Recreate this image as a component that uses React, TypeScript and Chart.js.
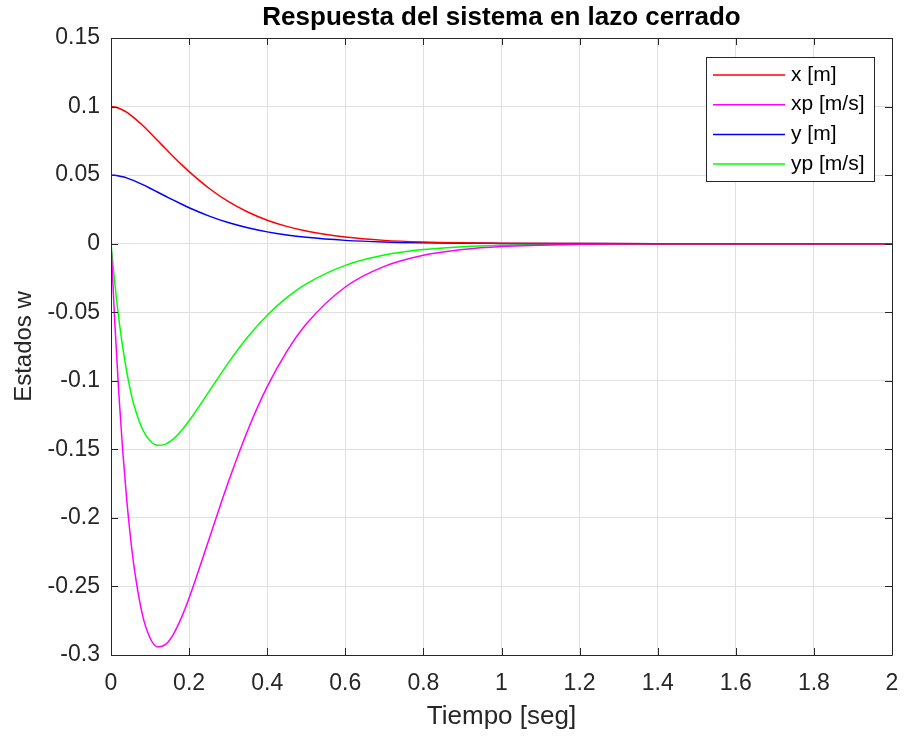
import React, { useEffect, useRef } from 'react';
import { Chart, registerables } from 'chart.js';

Chart.register(...registerables);

const tiempo = [0, 0.01, 0.02, 0.03, 0.04, 0.05, 0.06, 0.08, 0.1, 0.12, 0.14, 0.16, 0.18, 0.2, 0.25, 0.3, 0.35, 0.4, 0.45, 0.5, 0.6, 0.7, 0.8, 0.9, 1.0, 1.2, 1.4, 1.6, 1.8, 2.0];
const xPos = [0.1, 0.0997, 0.0988, 0.0975, 0.0959, 0.0938, 0.0916, 0.0865, 0.0809, 0.075, 0.0692, 0.0634, 0.0578, 0.0525, 0.0406, 0.0308, 0.0231, 0.0171, 0.0126, 0.0092, 0.0048, 0.0024, 0.0012, 0.0006, 0.0003, 0.0001, 0, 0, 0, 0];
const xVel = [0, -0.0591, -0.1091, -0.151, -0.1859, -0.2145, -0.2376, -0.27, -0.2876, -0.2941, -0.2923, -0.2847, -0.2729, -0.2584, -0.2165, -0.1742, -0.1362, -0.1043, -0.0787, -0.0586, -0.0316, -0.0166, -0.0085, -0.0043, -0.0021, -0.0005, -0.0001, 0, 0, 0];
const yPos = [0.05, 0.0499, 0.0494, 0.0488, 0.048, 0.0469, 0.0458, 0.0432, 0.0404, 0.0375, 0.0346, 0.0317, 0.0289, 0.0262, 0.0203, 0.0154, 0.0116, 0.0086, 0.0063, 0.0046, 0.0024, 0.0012, 0.0006, 0.0003, 0.0002, 0.0001, 0, 0, 0, 0];
const yVel = [0, -0.0296, -0.0546, -0.0755, -0.093, -0.1073, -0.1188, -0.135, -0.1438, -0.1471, -0.1462, -0.1424, -0.1365, -0.1292, -0.1083, -0.0871, -0.0681, -0.0522, -0.0394, -0.0293, -0.0158, -0.0083, -0.0043, -0.0022, -0.0011, -0.0003, -0.0001, 0, 0, 0];

const seriesLabels = ['x [m]', 'xp [m/s]', 'y [m]', 'yp [m/s]'];
const seriesColors = ['#ff0000', '#ff00ff', '#0000ff', '#00ff00'];
const xTicks = [0, 0.2, 0.4, 0.6, 0.8, 1, 1.2, 1.4, 1.6, 1.8, 2];
const yTicks = [-0.3, -0.25, -0.2, -0.15, -0.1, -0.05, 0, 0.05, 0.1, 0.15];

const FONT = "'Liberation Sans', Arial, Helvetica, sans-serif";
const AXIS = '#262626';

const boxPlugin = {
  id: 'matlabBox',
  afterDatasetsDraw(chart: any) {
    const { ctx, chartArea: a, scales } = chart;
    ctx.save();
    ctx.strokeStyle = AXIS;
    ctx.lineWidth = 1;
    ctx.beginPath();
    ctx.rect(Math.round(a.left) + 0.5, Math.round(a.top) + 0.5, Math.round(a.right - a.left), Math.round(a.bottom - a.top));
    const tl = 7;
    for (const v of xTicks) {
      const px = Math.round(scales.x.getPixelForValue(v)) + 0.5;
      ctx.moveTo(px, a.bottom);
      ctx.lineTo(px, a.bottom - tl);
      ctx.moveTo(px, a.top);
      ctx.lineTo(px, a.top + tl);
    }
    for (const v of yTicks) {
      const py = Math.round(scales.y.getPixelForValue(v)) + 0.5;
      ctx.moveTo(a.left, py);
      ctx.lineTo(a.left + tl, py);
      ctx.moveTo(a.right, py);
      ctx.lineTo(a.right - tl, py);
    }
    ctx.stroke();

    // legend
    const lx = 706.5, ly = 57.5, lw = 168, lh = 124;
    ctx.fillStyle = '#ffffff';
    ctx.fillRect(lx, ly, lw, lh);
    ctx.strokeStyle = AXIS;
    ctx.strokeRect(lx, ly, lw, lh);
    ctx.font = `21px ${FONT}`;
    ctx.textBaseline = 'middle';
    ctx.textAlign = 'left';
    seriesLabels.forEach((lab, i) => {
      const yy = 75 + i * 29.7;
      ctx.strokeStyle = seriesColors[i];
      ctx.lineWidth = 1.5;
      ctx.beginPath();
      ctx.moveTo(713, yy);
      ctx.lineTo(785, yy);
      ctx.stroke();
      ctx.fillStyle = '#000000';
      ctx.fillText(lab, 791, yy);
    });
    ctx.restore();
  },
};

const fmt = (v: number) => String(Number(v.toFixed(2)));

export default function App() {
  const ref = useRef<HTMLCanvasElement>(null);
  useEffect(() => {
    document.body.style.margin = '0';
    const datasets = [xPos, xVel, yPos, yVel].map((arr, i) => ({
      label: seriesLabels[i],
      data: tiempo.map((t, j) => ({ x: t, y: arr[j] })),
      borderColor: seriesColors[i],
      backgroundColor: seriesColors[i],
      borderWidth: 1.5,
      pointRadius: 0,
      cubicInterpolationMode: 'monotone' as const,
      fill: false,
    }));
    const chart = new Chart(ref.current!, {
      type: 'line',
      data: { datasets },
      plugins: [boxPlugin],
      options: {
        animation: false,
        responsive: false,
        maintainAspectRatio: false,
        layout: { padding: { left: 0, right: 13, top: 0, bottom: 0 } },
        plugins: {
          legend: { display: false },
          tooltip: { enabled: false },
          title: {
            display: true,
            text: 'Respuesta del sistema en lazo cerrado',
            fullSize: false,
            color: '#000000',
            font: { family: FONT, size: 26, weight: 'bold' },
            padding: { top: 2.5, bottom: 4.3 },
          },
        },
        scales: {
          x: {
            type: 'linear',
            min: 0,
            max: 2,
            afterBuildTicks: (s: any) => { s.ticks = xTicks.map((v) => ({ value: v })); },
            afterFit: (s: any) => { s.height = 81; s.paddingRight = 0; s.paddingLeft = 0; },
            ticks: { color: AXIS, font: { family: FONT, size: 23 }, padding: 15, maxRotation: 0, autoSkip: false, callback: (v: any) => fmt(Number(v)) },
            grid: { color: '#e0e0e0', drawTicks: false },
            border: { display: false },
            title: { display: true, text: 'Tiempo [seg]', color: AXIS, font: { family: FONT, size: 26 }, padding: { top: 0, bottom: 4 } },
          },
          y: {
            type: 'linear',
            min: -0.3,
            max: 0.15,
            afterBuildTicks: (s: any) => { s.ticks = yTicks.map((v) => ({ value: v })); },
            afterFit: (s: any) => { s.width = 111; },
            ticks: { color: AXIS, font: { family: FONT, size: 23 }, padding: 11, autoSkip: false, callback: (v: any) => fmt(Number(v)) },
            grid: { color: '#e0e0e0', drawTicks: false },
            border: { display: false },
            title: { display: true, text: 'Estados w', color: AXIS, font: { family: FONT, size: 24 }, padding: { top: 10, bottom: 0 } },
          },
        },
      },
    });
    return () => chart.destroy();
  }, []);
  return (
    <div style={{ position: 'relative', width: 905, height: 736, background: '#ffffff' }}>
      <canvas ref={ref} width={905} height={736} style={{ display: 'block' }} />
    </div>
  );
}
